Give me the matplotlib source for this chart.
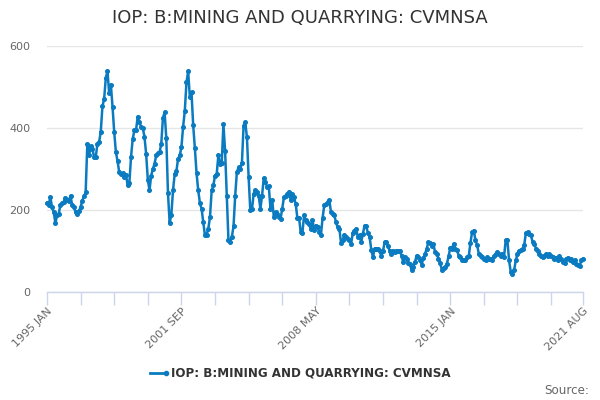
import numpy as np
import pandas as pd
import matplotlib
matplotlib.use('Agg')
import matplotlib.pyplot as plt

# monthly index values, 1995 JAN .. 2021 AUG
start_month = '1995-01'
vals_1995_1999 = [217, 213, 231, 207, 195, 168, 187, 191, 213, 217, 219, 230,
                  225, 223, 235, 211, 207, 195, 191, 197, 207, 223, 233, 243,
                  361, 333, 355, 349, 330, 329, 361, 365, 391, 453, 471, 522,
                  538, 485, 506, 452, 390, 341, 319, 292, 287, 290, 280, 286,
                  260, 265, 329, 373, 394, 395, 428, 414, 403, 400, 379, 337]
vals_2000_2004 = [274, 248, 284, 300, 313, 333, 338, 341, 361, 425, 438, 375,
                  241, 168, 189, 248, 288, 294, 325, 333, 353, 403, 441, 511,
                  538, 476, 487, 407, 351, 290, 248, 217, 203, 170, 138, 140,
                  154, 183, 248, 260, 284, 288, 334, 313, 315, 410, 343, 235,
                  126, 122, 134, 160, 235, 292, 304, 300, 314, 406, 414, 377]
vals_2005_2009 = [280, 199, 203, 239, 249, 244, 235, 203, 235, 278, 268, 256,
                  258, 203, 225, 184, 195, 191, 184, 179, 203, 231, 235, 239,
                  245, 225, 239, 231, 215, 181, 181, 146, 144, 187, 175, 170,
                  166, 154, 175, 152, 162, 158, 146, 138, 180, 211, 215, 219,
                  225, 195, 191, 187, 170, 158, 154, 120, 126, 140, 134, 130]
vals_2010_2014 = [126, 118, 144, 150, 154, 134, 138, 122, 142, 162, 160, 144,
                  134, 103, 85, 106, 106, 106, 101, 87, 101, 122, 122, 111,
                  100, 93, 101, 97, 101, 101, 100, 89, 73, 85, 81, 71,
                  69, 53, 61, 73, 89, 85, 77, 67, 83, 93, 106, 122,
                  119, 111, 116, 97, 93, 81, 71, 54, 58, 61, 69, 87]
vals_2015_2019 = [108, 106, 118, 106, 103, 89, 85, 79, 79, 77, 85, 87,
                  120, 146, 150, 126, 114, 93, 89, 85, 81, 77, 85, 81,
                  81, 77, 87, 93, 97, 93, 89, 93, 85, 127, 126, 77,
                  49, 45, 53, 77, 93, 100, 103, 106, 114, 144, 146, 142,
                  138, 122, 118, 106, 101, 93, 87, 85, 89, 93, 89, 92]
vals_2020_2021 = [87, 85, 81, 84, 77, 87, 81, 73, 71, 81, 84, 79,
                  81, 73, 77, 69, 67, 63, 77, 81]

values = (vals_1995_1999 + vals_2000_2004 + vals_2005_2009 +
          vals_2010_2014 + vals_2015_2019 + vals_2020_2021)
months = pd.period_range(start_month, periods=len(values), freq='M')
month_labels = [p.strftime('%Y %b').upper() for p in months]

series_name = 'IOP: B:MINING AND QUARRYING: CVMNSA'
line_color = '#0a7bc1'
grid_color = '#e6e6e6'
axis_color = '#ccd6eb'
text_color = '#666666'

fig = plt.figure(figsize=(6, 4), dpi=100)
ax = fig.add_axes([47 / 600, 108 / 400, 536 / 600, 246 / 400])

x = np.arange(len(values))
ax.plot(x, values, color=line_color, lw=1.8, marker='o', ms=2.6,
        clip_on=False, zorder=3)

ax.set_xlim(0, len(values) - 1)
ax.set_ylim(0, 600)

# y axis
ax.set_yticks([0, 200, 400, 600])
ax.yaxis.grid(True, color=grid_color, lw=1)
ax.set_axisbelow(True)
ax.tick_params(axis='y', length=0, pad=12, labelsize=8, labelcolor=text_color)
for s in ['left', 'right', 'top']:
    ax.spines[s].set_visible(False)
ax.spines['bottom'].set_color(axis_color)
ax.spines['bottom'].set_linewidth(1)

# x axis: tick every 20 months plus the last one, label every 80
last = len(values) - 1
tick_pos = list(range(0, last, 20)) + [last]
ax.set_xticks(tick_pos)
ax.set_xticklabels([month_labels[i] if (i % 80 == 0 or i == last) else ''
                    for i in tick_pos])
ax.tick_params(axis='x', length=9, width=1, color=axis_color,
               labelsize=8, labelcolor=text_color, pad=1)
for lbl in ax.get_xticklabels():
    lbl.set_rotation(45)
    lbl.set_ha('right')
    lbl.set_va('top')
    lbl.set_rotation_mode('anchor')

fig.text(0.5, 1 - 18 / 400, series_name, ha='center', va='center',
         fontsize=13, color='#333333')

# legend
leg_y = 1 - 373 / 400
fig.lines.append(plt.Line2D([150 / 600, 166 / 600], [leg_y, leg_y],
                            color=line_color, lw=2, marker='o', ms=3,
                            markevery=[1], transform=fig.transFigure))
fig.text(171 / 600, leg_y, series_name, ha='left', va='center',
         fontsize=8.6, fontweight='bold', color='#333333')

fig.text(589 / 600, 1 - 390 / 400, 'Source:', ha='right', va='center',
         fontsize=8.6, color=text_color)

fig.savefig('out.png', dpi=100)
